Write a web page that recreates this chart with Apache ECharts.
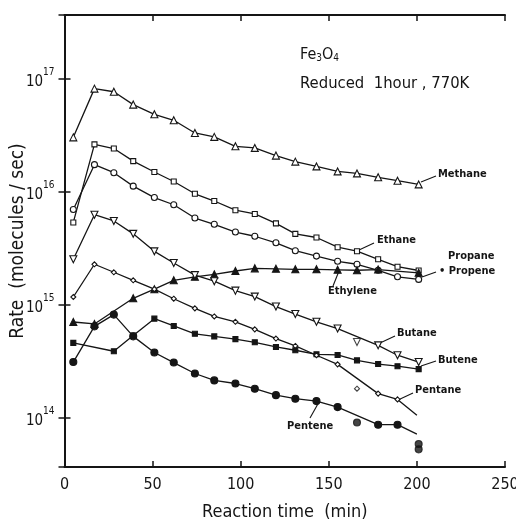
<!DOCTYPE html>
<html>
<head>
<meta charset="utf-8">
<script src="https://cdn.jsdelivr.net/npm/echarts@6/dist/echarts.min.js"></script>
<style>
  html, body { margin: 0; padding: 0; background: #fff; }
  #chart { width: 516px; height: 520px; }
</style>
</head>
<body>
<div id="chart"></div>
<script>
// sampling times (min)
const times = [5, 17, 28, 39, 51, 62, 74, 85, 97, 108, 120, 131, 143, 155, 166, 178, 189, 201];

// rates (molecules/sec), null = no point at that time
const methane  = [3.0e16, 8.1e16, 7.6e16, 5.85e16, 4.8e16, 4.25e16, 3.28e16, 3.03e16, 2.5e16, 2.42e16, 2.07e16, 1.83e16, 1.66e16, 1.5e16, 1.44e16, 1.33e16, 1.24e16, 1.15e16];
const ethane   = [5.3e15, 2.6e16, 2.39e16, 1.85e16, 1.48e16, 1.22e16, 9.5e15, 8.2e15, 6.8e15, 6.3e15, 5.2e15, 4.2e15, 3.9e15, 3.2e15, 2.95e15, 2.5e15, 2.15e15, 1.99e15];
const propane  = [6.9e15, 1.72e16, 1.46e16, 1.11e16, 8.8e15, 7.6e15, 5.8e15, 5.1e15, 4.36e15, 4.0e15, 3.5e15, 2.98e15, 2.67e15, 2.4e15, 2.26e15, 2.0e15, 1.75e15, 1.66e15];
const ethylene = [6.97e14, 6.7e14, null, 1.13e15, 1.36e15, 1.63e15, 1.75e15, 1.84e15, 1.97e15, 2.08e15, 2.06e15, 2.04e15, 2.04e15, 2.02e15, 2.0e15, 2.03e15, null, 1.9e15];
const butane   = [2.5e15, 6.2e15, 5.46e15, 4.2e15, 2.94e15, 2.32e15, 1.81e15, 1.6e15, 1.32e15, 1.17e15, 9.55e14, 8.2e14, 7.0e14, 6.1e14, null, 4.33e14, 3.54e14, 3.08e14];
const butene   = [4.55e14, null, 3.84e14, 5.3e14, 7.46e14, 6.43e14, 5.48e14, 5.2e14, 4.92e14, 4.61e14, 4.19e14, 3.92e14, 3.61e14, 3.56e14, 3.19e14, 2.96e14, 2.83e14, 2.67e14];
const pentane  = [1.16e15, 2.26e15, 1.92e15, 1.63e15, 1.36e15, 1.12e15, 9.2e14, 7.8e14, 7.0e14, 6.0e14, 4.97e14, 4.28e14, 3.54e14, 2.94e14, null, 1.62e14, 1.44e14, null];
const pentene  = [3.08e14, 6.38e14, 8.1e14, 5.2e14, 3.74e14, 3.05e14, 2.44e14, 2.12e14, 1.99e14, 1.79e14, 1.57e14, 1.46e14, 1.39e14, 1.23e14, null, 8.6e13, 8.6e13, null];

// points plotted off the drawn lines
const butaneOff  = [[166, 4.64e14]];
const pentaneOff = [[166, 1.79e14]];
const penteneOff = [[166, 8.98e13], [201, 5.8e13], [201, 5.2e13]];

// where the fitted lines end (no marker)
const pentaneEnd = [200, 1.04e14];
const penteneEnd = [200, 7.1e13];

const INK = '#151515';
const FONT = '"DejaVu Sans Condensed", "DejaVu Sans", sans-serif';

function pts(values) {
  const out = [];
  values.forEach((v, i) => { if (v != null) out.push([times[i], v]); });
  return out;
}

function lineSeries(name, values, symbol, filled, size, opts) {
  opts = opts || {};
  const data = pts(values);
  if (opts.end) data.push({ value: opts.end, symbol: 'none' });
  return {
    name: name,
    type: 'line',
    data: data,
    connectNulls: true,
    symbol: symbol,
    symbolSize: size,
    symbolRotate: opts.rotate || 0,
    showAllSymbol: true,
    lineStyle: { color: INK, width: 1.3 },
    itemStyle: { color: filled ? INK : '#fff', borderColor: INK, borderWidth: 1.1 },
    emphasis: { disabled: true },
    z: 2
  };
}

function offSeries(name, points, symbol, filled, size, rotate) {
  return {
    name: name + ' (off)',
    type: 'scatter',
    data: points,
    symbol: symbol,
    symbolSize: size,
    symbolRotate: rotate || 0,
    itemStyle: { color: filled ? INK : '#fff', borderColor: INK, borderWidth: 1.1 },
    emphasis: { disabled: true },
    z: 3
  };
}

const chart = echarts.init(document.getElementById('chart'));

// curve names with their leader lines (pixel layout)
const labelItems = [
  ['Methane', 438, 176, [421, 182, 436, 176]],
  ['Ethane', 377, 242, [359, 250, 374, 243]],
  ['Propane', 448, 258, null],
  ['\u2022 Propene', 439, 273, [422, 277, 436, 272]],
  ['Ethylene', 328, 293, [339, 271, 333, 286]],
  ['Butane', 397, 335, [380, 343, 395, 336]],
  ['Butene', 438, 362, [421, 366, 436, 361]],
  ['Pentane', 415, 392, [398, 400, 413, 393]],
  ['Pentene', 287, 428, [319, 402, 310, 418]]
];

const graphics = [];
labelItems.forEach(([t, x, y, ln]) => {
  graphics.push({
    type: 'text', left: x, top: y - 7,
    style: { text: t, font: 'bold 11px ' + FONT, fill: INK }
  });
  if (ln) {
    graphics.push({
      type: 'line',
      shape: { x1: ln[0], y1: ln[1], x2: ln[2], y2: ln[3] },
      style: { stroke: INK, lineWidth: 1.1 }
    });
  }
});
graphics.push({
  type: 'text', left: 300, top: 47,
  style: {
    text: 'Fe{s|3}O{s|4}',
    rich: {
      s: { fontSize: 10, fontFamily: FONT, fill: INK, verticalAlign: 'bottom', padding: [6, 0, 0, 0] }
    },
    font: '16px ' + FONT, fill: INK
  }
});
graphics.push({
  type: 'text', left: 300, top: 75,
  style: { text: 'Reduced  1hour , 770K', font: '16.5px ' + FONT, fill: INK }
});

const yMin = Math.pow(10, 13.56);
const yMax = Math.pow(10, 17.56);

function yLabel(v) {
  const e = Math.log10(v);
  const r = Math.round(e);
  if (Math.abs(e - r) > 0.01) return '';
  return '{b|10}{s|' + r + '}';
}

const axisLine = { show: true, lineStyle: { color: INK, width: 2 } };
const tickStyle = { show: true, inside: true, length: 6, lineStyle: { color: INK, width: 1.5 } };

chart.setOption({
  animation: false,
  backgroundColor: '#fff',
  grid: { left: 64.5, right: 11, top: 15, bottom: 53, containLabel: false, outerBoundsMode: 'none' },
  xAxis: [
    {
      type: 'value', min: 0, max: 250, interval: 50,
      axisLine: axisLine, axisTick: tickStyle, splitLine: { show: false },
      axisLabel: { color: INK, fontSize: 16, fontFamily: FONT, margin: 10 },
      name: 'Reaction time  (min)', nameLocation: 'middle', nameGap: 36,
      nameTextStyle: { color: INK, fontSize: 18, fontFamily: FONT }
    },
    {
      type: 'value', position: 'top', min: 0, max: 250, interval: 50,
      axisLine: axisLine, axisTick: tickStyle, splitLine: { show: false },
      axisLabel: { show: false }
    }
  ],
  yAxis: [
    {
      type: 'log', logBase: 10, min: yMin, max: yMax,
      axisLine: axisLine, axisTick: tickStyle, splitLine: { show: false },
      minorTick: { show: false },
      axisLabel: {
        formatter: yLabel, margin: 10,
        rich: {
          b: { fontSize: 15, fontFamily: FONT, color: INK, lineHeight: 22, verticalAlign: 'bottom' },
          s: { fontSize: 10, fontFamily: FONT, color: INK, verticalAlign: 'top' }
        }
      },
      name: 'Rate  (molecules / sec)', nameLocation: 'middle', nameGap: 37, nameRotate: 90,
      nameMoveOverlap: false,
      nameTextStyle: { color: INK, fontSize: 19, fontFamily: FONT }
    },
    {
      type: 'log', logBase: 10, min: yMin, max: yMax, position: 'right',
      axisLine: axisLine, axisTick: tickStyle, splitLine: { show: false },
      axisLabel: { show: false }
    }
  ],
  series: [
    lineSeries('Methane', methane, 'triangle', false, 7),
    lineSeries('Ethane', ethane, 'rect', false, 5),
    lineSeries('Propane', propane, 'circle', false, 6),
    lineSeries('Ethylene', ethylene, 'triangle', true, 7),
    lineSeries('Butane', butane, 'triangle', false, 7, { rotate: 180 }),
    offSeries('Butane', butaneOff, 'triangle', false, 7, 180),
    lineSeries('Butene', butene, 'rect', true, 5),
    lineSeries('Pentane', pentane, 'diamond', false, 5, { end: pentaneEnd }),
    offSeries('Pentane', pentaneOff, 'diamond', false, 5),
    lineSeries('Pentene', pentene, 'circle', true, 7, { end: penteneEnd }),
    offSeries('Pentene', penteneOff, 'circle', true, 7)
  ],
  graphic: graphics
});
</script>
</body>
</html>
